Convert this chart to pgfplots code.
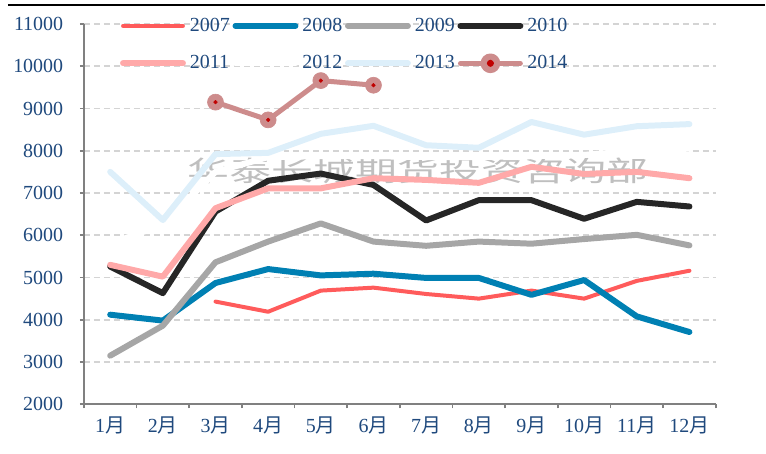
\documentclass[border=0pt]{standalone}
\usepackage{pgfplots}
\pgfplotsset{compat=1.18}
\usepackage{fontspec}
\setmainfont{Liberation Serif}
\newfontfamily\cjk{Noto Sans CJK SC}
\definecolor{c07}{HTML}{FF5B5B}
\definecolor{c08}{HTML}{0080B3}
\definecolor{c09}{HTML}{A6A6A6}
\definecolor{c10}{HTML}{262626}
\definecolor{c11}{HTML}{FFA9A9}
\definecolor{c13}{HTML}{DDEFFA}
\definecolor{c14}{HTML}{CD8C8C}
\definecolor{c14dot}{HTML}{C00000}
\definecolor{txt}{HTML}{1F497D}
\definecolor{gridc}{HTML}{D4D4D4}
\definecolor{axc}{HTML}{808080}

\begin{document}
\begin{tikzpicture}
\begin{axis}[
    scale only axis, width=474.75pt, height=285.75pt,
    xmin=0.5, xmax=12.5, ymin=2000, ymax=11000,
    ytick={2000,3000,...,11000},
    scaled y ticks=false,
    xtick={0.5,1.5,...,12.5}, xticklabels={},
    extra x ticks={1,2,...,12},
    extra x tick labels={1{\cjk 月},2{\cjk 月},3{\cjk 月},4{\cjk 月},5{\cjk 月},6{\cjk 月},7{\cjk 月},8{\cjk 月},9{\cjk 月},10{\cjk 月},11{\cjk 月},12{\cjk 月}},
    extra x tick style={major tick length=0pt, grid=none},
    axis x line*=bottom, axis y line*=left,
    axis line style={draw=axc, line width=1.5pt},
    tick align=outside, major tick length=3pt,
    tick style={draw=axc, line width=1.2pt},
    ymajorgrids,
    grid style={draw=gridc, line width=1.4pt, dash pattern=on 4.5pt off 3pt},
    tick label style={font=\fontsize{15}{17}\selectfont, text=txt},
    yticklabel style={xshift=-9pt},
    xticklabel style={yshift=-6pt},
    /pgf/number format/assume math mode=true,
    /pgf/number format/1000 sep={},
    clip=false,
    every axis plot/.append style={line cap=round, line join=round},
    legend columns=4,
    legend cell align=left,
    legend image code/.code={\draw[#1] (0pt,0pt) -- (45pt,0pt);},
    legend style={draw=none, fill=none, at={(rel axis cs:0,1)}, anchor=north west,
        xshift=27pt, yshift=4.5pt, inner sep=0pt,
        font=\fontsize{15}{17}\selectfont, text=txt,
        nodes={inner sep=0pt},
        /tikz/every odd column/.append style={column sep=3pt},
        /tikz/every even column/.append style={column sep=2pt},
        row sep=15pt},
]
% watermark
\node[text=black!25, font=\cjk\fontsize{21}{21}\selectfont, xscale=1.5] at (axis cs:6.85,7530) {华泰长城期货投资咨询部};

\addplot[white, line width=4.5pt, forget plot] coordinates {
(1,5800) (2,6250) (3,7500) (4,7850) (5,7870) (6,7870) (7,7850) (8,7850) (9,7870) (10,7900) (11,8000) (12,8050)};

\addplot[c07, line width=3pt] coordinates {
(3,4430) (4,4190) (5,4690) (6,4760) (7,4610) (8,4500) (9,4690) (10,4500) (11,4920) (12,5160)};
\addlegendentry{2007}
\addplot[c08, line width=4.5pt] coordinates {
(1,4120) (2,3980) (3,4870) (4,5200) (5,5050) (6,5090) (7,4990) (8,4990) (9,4590) (10,4940) (11,4080) (12,3710)};
\addlegendentry{2008}
\addplot[c09, line width=4.5pt] coordinates {
(1,3150) (2,3860) (3,5360) (4,5850) (5,6280) (6,5850) (7,5750) (8,5850) (9,5800) (10,5910) (11,6010) (12,5760)};
\addlegendentry{2009}
\addplot[c10, line width=4.5pt] coordinates {
(1,5260) (2,4630) (3,6560) (4,7290) (5,7460) (6,7190) (7,6350) (8,6830) (9,6830) (10,6390) (11,6790) (12,6680)};
\addlegendentry{2010}
\addplot[c11, line width=4.5pt] coordinates {
(1,5300) (2,5020) (3,6640) (4,7110) (5,7110) (6,7350) (7,7310) (8,7240) (9,7620) (10,7450) (11,7500) (12,7350)};
\addlegendentry{2011}
\addlegendimage{white, line width=4.5pt}
\addlegendentry{2012}
\addplot[c13, line width=4.5pt] coordinates {
(1,7500) (2,6360) (3,7920) (4,7950) (5,8400) (6,8590) (7,8130) (8,8070) (9,8680) (10,8380) (11,8580) (12,8630)};
\addlegendentry{2013}
\addplot[c14, line width=3.75pt, mark=*, mark size=6pt, mark options={fill=c14, draw=c14, line width=0.5pt},
    legend image code/.code={\draw[c14, line width=3.75pt, line cap=round] (0pt,0pt) -- (45pt,0pt);
        \fill[c14] (22.5pt,0pt) circle (5.5pt); \fill[c14dot] (22.5pt,0pt) circle (0.8pt);}]
    coordinates {(3,9150) (4,8730) (5,9660) (6,9550)};
\addlegendentry{2014}
\addplot[only marks, mark=*, mark size=1.4pt, c14dot, forget plot]
    coordinates {(3,9150) (4,8730) (5,9660) (6,9550)};

% frame line at the top and page margins
\draw[black, line width=2pt] ([xshift=-57pt,yshift=14.25pt]rel axis cs:0,1) -- ([xshift=36.75pt,yshift=14.25pt]rel axis cs:1,1);
\path ([xshift=-63pt,yshift=18pt]rel axis cs:0,1) ([yshift=-36.75pt]rel axis cs:0,0);
\end{axis}
\end{tikzpicture}
\end{document}
